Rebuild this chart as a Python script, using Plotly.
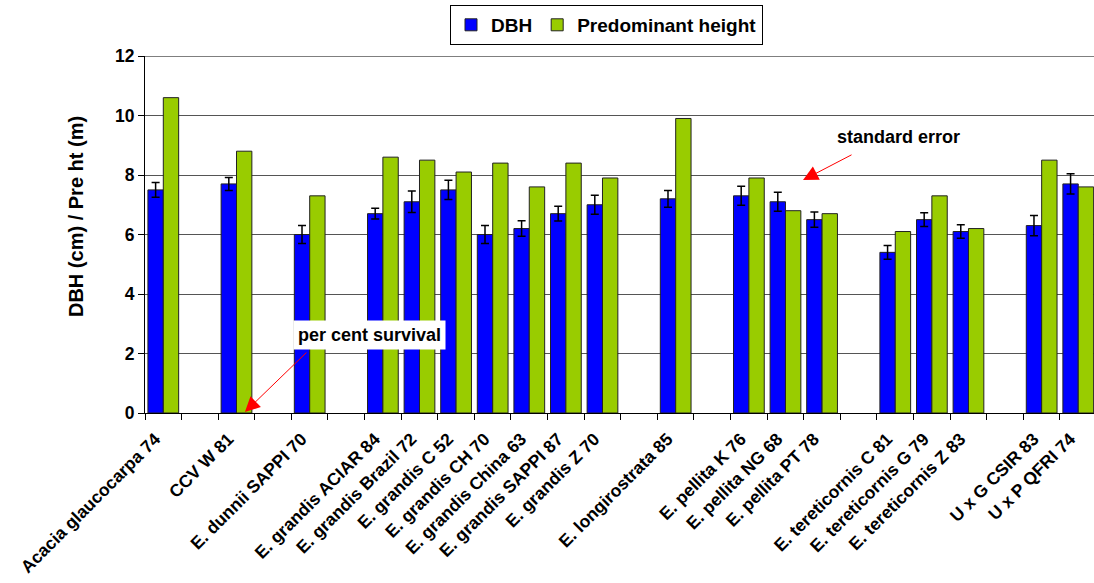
import plotly.graph_objects as go

# Seed sources in plotting order; empty strings leave a gap between species groups
sites = [
    "Acacia glaucocarpa 74", "", "CCV W 81", "", "E. dunnii SAPPI 70", "",
    "E. grandis ACIAR 84", "E. grandis Brazil 72", "E. grandis C 52",
    "E. grandis CH 70", "E. grandis China 63", "E. grandis SAPPI 87",
    "E. grandis Z 70", "", "E. longirostrata 85", "",
    "E. pellita K 76", "E. pellita NG 68", "E. pellita PT 78", "",
    "E. tereticornis C 81", "E. tereticornis G 79", "E. tereticornis Z 83", "",
    "U x G CSIR 83", "U x P QFRI 74",
]

dbh = [7.5, None, 7.7, None, 6.0, None,
       6.7, 7.1, 7.5, 6.0, 6.2, 6.7, 7.0, None, 7.2, None,
       7.3, 7.1, 6.5, None, 5.4, 6.5, 6.1, None, 6.3, 7.7]

dbh_se = [0.25, None, 0.22, None, 0.30, None,
          0.18, 0.36, 0.32, 0.30, 0.26, 0.25, 0.32, None, 0.28, None,
          0.32, 0.32, 0.26, None, 0.23, 0.23, 0.23, None, 0.34, 0.34]

pred_height = [10.6, None, 8.8, None, 7.3, None,
               8.6, 8.5, 8.1, 8.4, 7.6, 8.4, 7.9, None, 9.9, None,
               7.9, 6.8, 6.7, None, 6.1, 7.3, 6.2, None, 8.5, 7.6]

y_ticks = [0, 2, 4, 6, 8, 10, 12]

pos = list(range(len(sites)))
BOLD = dict(family="Liberation Sans, Arial, sans-serif", color="black", weight="bold")
GRID = "#555555"

fig = go.Figure()
fig.add_trace(go.Bar(
    name="DBH", x=pos, y=dbh,
    marker=dict(color="#0000FF", line=dict(color="#222222", width=1)),
    error_y=dict(type="data", array=dbh_se, visible=True,
                 color="black", thickness=1.5, width=4),
))
fig.add_trace(go.Bar(
    name="Predominant height", x=pos, y=pred_height,
    marker=dict(color="#99CC00", line=dict(color="#222222", width=1)),
))

fig.update_layout(
    width=1094, height=583,
    margin=dict(l=145, r=0, t=56, b=170),
    paper_bgcolor="white", plot_bgcolor="white",
    barmode="group", bargap=0.16, bargroupgap=0,
    showlegend=True,
    legend=dict(
        orientation="h", x=0.3214, xanchor="left", y=1.143, yanchor="top",
        bordercolor="black", borderwidth=1, bgcolor="white",
        font=dict(size=19, **BOLD), itemwidth=30, traceorder="normal",
    ),
    xaxis=dict(
        range=[-0.5, 25.43],
        tickmode="array", tickvals=pos, ticktext=sites,
        tickangle=-45, tickfont=dict(size=17.5, **BOLD),
        ticklabelshift=-8, ticklabelstandoff=8,
        ticks="", showgrid=False, zeroline=False,
        showline=True, linecolor="black", linewidth=1,
        minor=dict(tick0=0.5, dtick=1, ticks="outside", ticklen=6,
                   tickcolor="black", showgrid=False),
    ),
    yaxis=dict(
        range=[0, 12], tickvals=y_ticks,
        tickfont=dict(size=17.5, **BOLD),
        ticks="outside", ticklen=6, tickcolor="black",
        showgrid=True, gridcolor=GRID, gridwidth=1,
        zeroline=False, showline=True, linecolor="black", linewidth=1,
    ),
)

# Gridline along the top of the value range
fig.add_shape(type="line", xref="paper", yref="y", x0=0, x1=1,
              y0=y_ticks[-1], y1=y_ticks[-1], line=dict(color=GRID, width=1.5),
              layer="below")

# Y-axis title
fig.add_annotation(x=-0.0727, y=0.549, xref="paper", yref="paper",
                   xanchor="center", yanchor="middle", textangle=-90,
                   text="DBH (cm) / Pre ht (m)", showarrow=False,
                   font=dict(size=20, **BOLD))

# Labelled arrows pointing at the error bars and the missing survival value
fig.add_annotation(x=0.7935, y=0.7726, xref="paper", yref="paper",
                   xanchor="center", yanchor="middle",
                   text="standard error", showarrow=False,
                   font=dict(size=18, **BOLD))
fig.add_annotation(x=17.48, y=7.83, xref="x", yref="y", text="",
                   showarrow=True, ax=50, ay=-26, arrowhead=2, arrowsize=3,
                   arrowwidth=1, arrowcolor="red")
fig.add_annotation(x=0.2365, y=0.2188, xref="paper", yref="paper",
                   xanchor="center", yanchor="middle",
                   text="per cent survival", showarrow=False,
                   bgcolor="white", borderpad=4,
                   font=dict(size=18, **BOLD))
fig.add_annotation(x=2.23, y=0.03, xref="x", yref="y", text="",
                   showarrow=True, ax=63, ay=-61, arrowhead=2, arrowsize=3,
                   arrowwidth=1, arrowcolor="red")

fig.write_html("out.html")
